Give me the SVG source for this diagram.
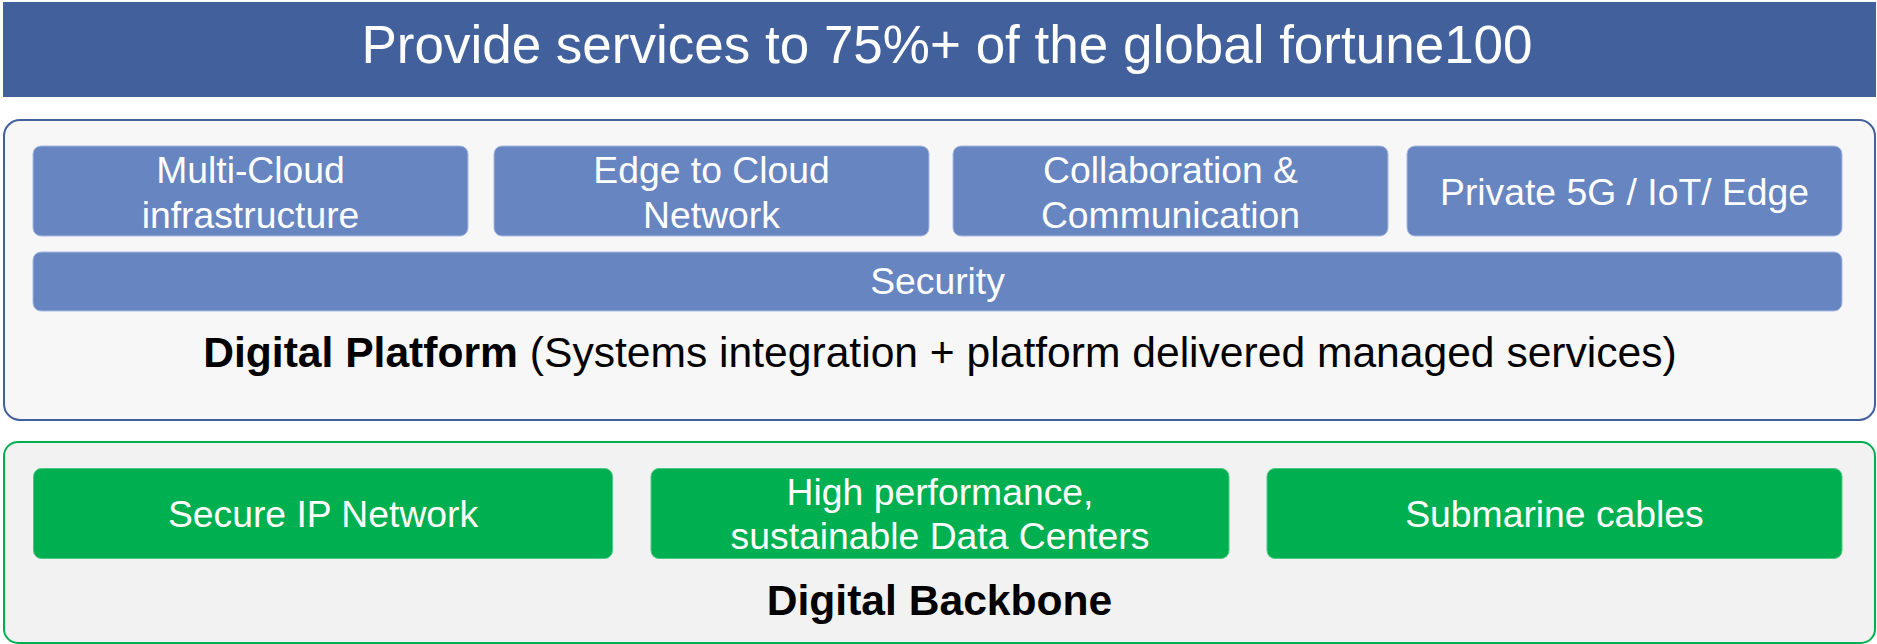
<svg xmlns="http://www.w3.org/2000/svg" width="1877" height="644" viewBox="0 0 1877 644">
<style>
.t{font-family:"Liberation Sans",Arial,sans-serif;text-anchor:middle}
.w{fill:#ffffff;font-size:37.3px}
.blue{fill:#6785c1;stroke:#a9bbe0;stroke-width:1}
.green{fill:#00b050;stroke:#4cc883;stroke-width:1}
.k{fill:#000000;font-size:42.6px}
</style>
<rect width="1877" height="644" fill="#ffffff"/>
<g id="header">
<rect x="3" y="2" width="1873" height="95" fill="#41609c"/>
<text class="t" x="947" y="63" fill="#ffffff" font-size="53">Provide services to 75%+ of the global fortune100</text>
</g>
<g id="digital-platform">
<rect x="4" y="120" width="1871" height="300" rx="16" fill="#f7f7f7" stroke="#41609c" stroke-width="2"/>
<text class="t k" x="940" y="367"><tspan font-weight="bold">Digital Platform</tspan> (Systems integration + platform delivered managed services)</text>
</g>
<g id="multi-cloud">
<rect class="blue" x="33" y="146" width="435" height="90" rx="8"/>
<text class="t w" x="250.5" y="183">Multi-Cloud</text>
<text class="t w" x="250.5" y="228">infrastructure</text>
</g>
<g id="edge-to-cloud">
<rect class="blue" x="494" y="146" width="435" height="90" rx="8"/>
<text class="t w" x="711.5" y="183">Edge to Cloud</text>
<text class="t w" x="711.5" y="228">Network</text>
</g>
<g id="collaboration">
<rect class="blue" x="953" y="146" width="435" height="90" rx="8"/>
<text class="t w" x="1170.5" y="183">Collaboration &amp;</text>
<text class="t w" x="1170.5" y="228">Communication</text>
</g>
<g id="private-5g">
<rect class="blue" x="1407" y="146" width="435" height="90" rx="8"/>
<text class="t w" x="1624.5" y="205">Private 5G / IoT/ Edge</text>
</g>
<g id="security">
<rect class="blue" x="33" y="252" width="1809" height="59" rx="8"/>
<text class="t w" x="937.5" y="294">Security</text>
</g>
<g id="digital-backbone">
<rect x="4" y="442" width="1871" height="201" rx="14" fill="#f2f2f2" stroke="#00b050" stroke-width="2"/>
<text class="t k" x="939.5" y="615" font-weight="bold">Digital Backbone</text>
</g>
<g id="secure-ip">
<rect class="green" x="33.5" y="468.5" width="579" height="90" rx="8"/>
<text class="t w" x="323" y="527">Secure IP Network</text>
</g>
<g id="data-centers">
<rect class="green" x="651" y="468.5" width="578" height="90" rx="8"/>
<text class="t w" x="940" y="505">High performance,</text>
<text class="t w" x="940" y="548.5">sustainable Data Centers</text>
</g>
<g id="submarine">
<rect class="green" x="1267" y="468.5" width="575" height="90" rx="8"/>
<text class="t w" x="1554.5" y="527">Submarine cables</text>
</g>
<g id="connectors"/>
</svg>
